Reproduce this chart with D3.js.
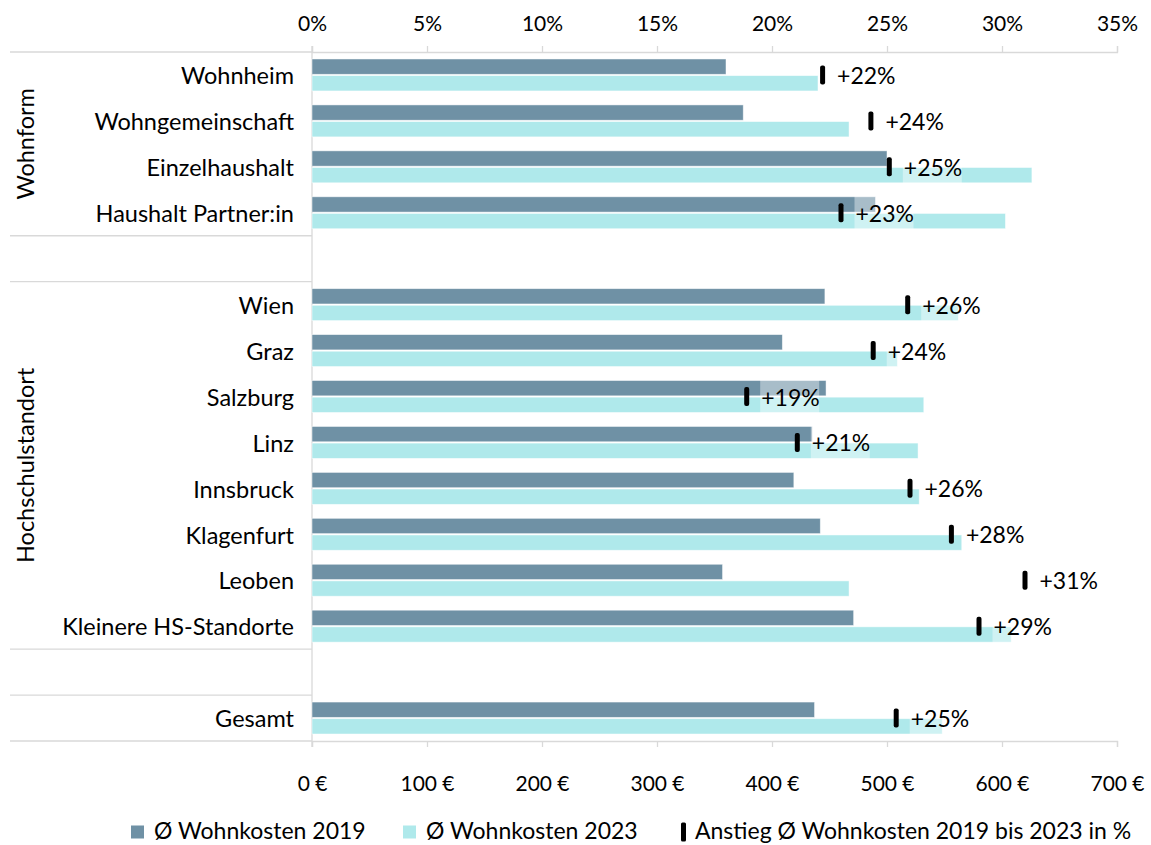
<!DOCTYPE html>
<html>
<head>
<meta charset="utf-8">
<script src="https://cdn.jsdelivr.net/npm/d3@7"></script>
<style>
  body { margin: 0; background: #fff; }
  text { font-family: Lato, "Noto Sans", sans-serif; fill: #000; }
</style>
</head>
<body>
<div id="chart"></div>
<script>
// values
var categories = ["Wohnheim", "Wohngemeinschaft", "Einzelhaushalt", "Haushalt Partner:in",
    "Wien", "Graz", "Salzburg", "Linz", "Innsbruck", "Klagenfurt", "Leoben", "Kleinere HS-Standorte",
    "Gesamt"];
var groups = ["Wohnform", "Wohnform", "Wohnform", "Wohnform",
    "Hochschulstandort", "Hochschulstandort", "Hochschulstandort", "Hochschulstandort",
    "Hochschulstandort", "Hochschulstandort", "Hochschulstandort", "Hochschulstandort",
    ""];
var costs2019 = [360, 375, 500, 490, 446, 409, 447, 435, 419, 442, 357, 471, 437];
var costs2023 = [440, 467, 626, 603, 562, 509, 532, 527, 528, 565, 467, 608, 548];
var increase = [22.2, 24.3, 25.1, 23.0, 25.9, 24.4, 18.9, 21.1, 26.0, 27.8, 31.0, 29.0, 25.4];
var costTicks = [0, 100, 200, 300, 400, 500, 600, 700];
var pctTicks = [0, 0.05, 0.10, 0.15, 0.20, 0.25, 0.30, 0.35];
var legendLabels = ["Ø Wohnkosten 2019", "Ø Wohnkosten 2023", "Anstieg Ø Wohnkosten 2019 bis 2023 in %"];

var colors = {c2019: "#6f91a5", c2023: "#afe9eb", grid: "#d9d9d9"};
var width = 1151, height = 845;
var plot = {left: 312, right: 1117, top: 52, bottom: 741};

var svg = d3.select("#chart").
    append("svg").
    attr("width", width).
    attr("height", height);

// rows: categories with an empty row between groups
var rows = [];
var data = categories.map(function(c, i) {
    if (i > 0 && groups[i] !== groups[i - 1]) rows.push("gap" + i);
    rows.push(c);
    return {cat: c, group: groups[i], v2019: costs2019[i], v2023: costs2023[i], pct: increase[i]};
});

var x = d3.scaleLinear().domain([0, 700]).range([plot.left, plot.right]);
var x2 = d3.scaleLinear().domain([0, 0.35]).range([plot.left, plot.right]);
var y = d3.scaleBand().domain(rows).range([plot.top, plot.bottom]);
var ySub = d3.scaleBand().domain(["2019", "2023"]).range([0, y.bandwidth()]).
    paddingInner(0.08).paddingOuter(0.42);

// top axis (percent)
var topAxis = svg.append("g").
    attr("transform", "translate(0," + plot.top + ")").
    call(d3.axisTop(x2).tickValues(pctTicks).tickSize(6).tickFormat(d3.format(".0%")));
topAxis.selectAll("path, line").attr("stroke", colors.grid).attr("stroke-width", 1.3);
topAxis.selectAll("text").attr("y", -21).attr("dy", 0).style("font-size", "21px").style("font-family", null);

// bottom axis (euro)
var bottomAxis = svg.append("g").
    attr("transform", "translate(0," + plot.bottom + ")").
    call(d3.axisBottom(x).tickValues(costTicks).tickSize(6).tickFormat(function(d) { return d + " €"; }));
bottomAxis.selectAll("path, line").attr("stroke", colors.grid).attr("stroke-width", 1.3);
bottomAxis.selectAll("text").attr("y", 50).attr("dy", 0).style("font-size", "21px").style("font-family", null);

// category axis line
svg.append("line").
    attr("x1", plot.left).attr("x2", plot.left).
    attr("y1", plot.top - 6).attr("y2", plot.bottom + 6).
    attr("stroke", colors.grid).attr("stroke-width", 1.3);

// group separators and group titles
var groupNames = [];
groups.forEach(function(g) { if (groupNames.indexOf(g) < 0) groupNames.push(g); });
groupNames.forEach(function(g) {
    var cats = categories.filter(function(c, i) { return groups[i] === g; });
    var y0 = y(cats[0]), y1 = y(cats[cats.length - 1]) + y.bandwidth();
    [y0, y1].forEach(function(v) {
        svg.append("line").
            attr("x1", 10).attr("x2", plot.left).
            attr("y1", v).attr("y2", v).
            attr("stroke", colors.grid).attr("stroke-width", 1.3);
    });
    if (g) {
        svg.append("text").
            attr("transform", "translate(34," + ((y0 + y1) / 2) + ") rotate(-90)").
            attr("text-anchor", "middle").
            style("font-size", "23.5px").
            text(g);
    }
});

// category labels
svg.selectAll(".cat").
    data(data).
    enter().append("text").
    attr("class", "cat").
    attr("x", 294).
    attr("y", function(d) { return y(d.cat) + y.bandwidth() / 2 + 1; }).
    attr("dy", "0.35em").
    attr("text-anchor", "end").
    style("font-size", "23.5px").
    text(function(d) { return d.cat; });

// bars
svg.selectAll(".bar2019").
    data(data).
    enter().append("rect").
    attr("class", "bar2019").
    attr("x", x(0)).
    attr("y", function(d) { return y(d.cat) + ySub("2019"); }).
    attr("width", function(d) { return x(d.v2019) - x(0); }).
    attr("height", ySub.bandwidth()).
    attr("fill", colors.c2019).
    attr("stroke", "#fff").attr("stroke-opacity", 0.6).attr("stroke-width", 0.8);

svg.selectAll(".bar2023").
    data(data).
    enter().append("rect").
    attr("class", "bar2023").
    attr("x", x(0)).
    attr("y", function(d) { return y(d.cat) + ySub("2023"); }).
    attr("width", function(d) { return x(d.v2023) - x(0); }).
    attr("height", ySub.bandwidth()).
    attr("fill", colors.c2023).
    attr("stroke", "#fff").attr("stroke-opacity", 0.6).attr("stroke-width", 0.8);

// percent labels with translucent box
var lab = svg.selectAll(".pct").
    data(data).
    enter().append("g").
    attr("class", "pct").
    attr("transform", function(d) {
        return "translate(" + x2(d.pct / 100) + "," + (y(d.cat) + y.bandwidth() / 2) + ")";
    });

lab.append("rect").
    attr("x", 13.5).
    attr("y", -17).
    attr("width", 59).
    attr("height", 34).
    attr("fill", "#fff").
    attr("fill-opacity", 0.4);

lab.append("rect").
    attr("x", -2.5).
    attr("y", -9.5).
    attr("width", 5).
    attr("height", 19).
    attr("rx", 2).
    attr("fill", "#000");

lab.append("text").
    attr("x", 14.5).
    attr("y", 1).
    attr("dy", "0.35em").
    style("font-size", "23px").
    text(function(d) { return "+" + Math.round(d.pct) + "%"; });

// legend
var legend = svg.append("g").attr("transform", "translate(0,831)");
var legendX = [131, 403, 680];
legendLabels.forEach(function(name, i) {
    var item = legend.append("g").attr("transform", "translate(" + legendX[i] + ",0)");
    if (i < 2) {
        item.append("rect").
            attr("x", 0).attr("y", -5.5).
            attr("width", 13).attr("height", 13).
            attr("fill", i === 0 ? colors.c2019 : colors.c2023);
        item.append("text").
            attr("x", 23).attr("dy", "0.35em").
            style("font-size", "23px").
            text(name);
    } else {
        item.append("rect").
            attr("x", 1).attr("y", -8.5).
            attr("width", 5).attr("height", 19).attr("rx", 1.5).
            attr("fill", "#000");
        item.append("text").
            attr("x", 15).attr("dy", "0.35em").
            style("font-size", "23px").
            text(name);
    }
});
</script>
</body>
</html>
